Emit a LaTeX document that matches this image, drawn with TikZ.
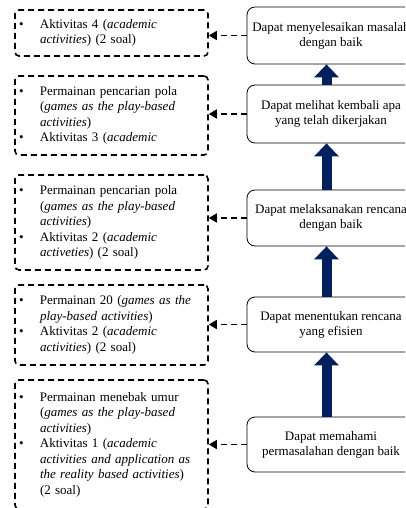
\documentclass[tikz,border=0pt]{standalone}
\usepackage{fontspec}
\setmainfont{Liberation Serif}
\usetikzlibrary{arrows.meta}
\definecolor{navy}{RGB}{0,32,96}
\begin{document}
\begin{tikzpicture}[x=1pt,y=-1pt,
  leftbox/.style={draw, dash pattern=on 6pt off 4pt, line width=1.6pt, rounded corners=4pt,
    inner xsep=4pt, inner ysep=0pt, text width=185pt, align=left,
    font=\fontsize{13}{15.5}\selectfont},
  rightbox/.style={draw, line width=0.8pt, rounded corners=8pt, minimum width=168pt,
    align=center, font=\fontsize{13}{15}\selectfont},
  dasharrow/.style={line width=1.6pt, dash pattern=on 6pt off 4pt, -{Triangle[length=8pt,width=9pt]}},
  fatarrow/.style={draw=navy, line width=10pt, -{Triangle[length=13pt,width=24pt]}}
]
\useasboundingbox (0,0) rectangle (405,508);
\fill[white] (0,0) rectangle (405,508);
\clip (0,0) rectangle (405,508);

% right boxes
\node[rightbox, minimum height=57pt] (A) at (331,35.5) {Dapat menyelesaikan masalah\\dengan baik};
\node[rightbox, minimum height=58pt] (B) at (331,114) {Dapat melihat kembali apa\\yang telah dikerjakan};
\node[rightbox, minimum height=56pt] (C) at (331,218) {Dapat melaksanakan rencana\\dengan baik};
\node[rightbox, minimum height=55pt] (D) at (331,324.5) {Dapat menentukan rencana\\yang efisien};
\node[rightbox, minimum height=55pt] (E) at (331,444.5) {Dapat memahami\\permasalahan dengan baik};

% left boxes
\node[leftbox, minimum height=46pt] (L1) at (111.5,33) {\noindent\begin{tabular}{@{}p{21pt}@{}l@{}}
\textbullet & Aktivitas 4 (\textit{academic}\\
 & \textit{activities}) (2 soal)
\end{tabular}};
\node[leftbox, minimum height=79pt] (L2) at (111.5,115.5) {\noindent\begin{tabular}{@{}p{21pt}@{}l@{}}
\textbullet & Permainan pencarian pola\\
 & (\textit{games as the play-based}\\
 & \textit{activities})\\
\textbullet & Aktivitas 3 (\textit{academic}
\end{tabular}};
\node[leftbox, minimum height=95pt] (L3) at (111.5,222.5) {\noindent\begin{tabular}{@{}p{21pt}@{}l@{}}
\textbullet & Permainan pencarian pola\\
 & (\textit{games as the play-based}\\
 & \textit{activities})\\
\textbullet & Aktivitas 2 (\textit{academic}\\
 & \textit{activeties}) (2 soal)
\end{tabular}};
\node[leftbox, minimum height=80pt] (L4) at (111.5,325) {\noindent\begin{tabular}{@{}p{21pt}@{}l@{}}
\textbullet & Permainan 20 (\textit{games as the}\\
 & \textit{play-based activities})\\
\textbullet & Aktivitas 2 (\textit{academic}\\
 & \textit{activities}) (2 soal)
\end{tabular}};
\node[leftbox, minimum height=129pt] (L5) at (111.5,444.5) {\noindent\begin{tabular}{@{}p{21pt}@{}l@{}}
\textbullet & Permainan menebak umur\\
 & (\textit{games as the play-based}\\
 & \textit{activities})\\
\textbullet & Aktivitas 1 (\textit{academic}\\
 & \textit{activities and application as}\\
 & \textit{the reality based activities})\\
 & (2 soal)
\end{tabular}};

% dashed arrows
\foreach \r/\l in {A/L1,B/L2,C/L3,D/L4,E/L5}
  \draw[dasharrow] (\r.west) -- (\r.west -| \l.east);

% fat arrows
\draw[fatarrow] ([xshift=-4.5pt]E.north) -- ([xshift=-4.5pt]D.south);
\draw[fatarrow] ([xshift=-4.5pt]D.north) -- ([xshift=-4.5pt]C.south);
\draw[fatarrow] ([xshift=-4.5pt]C.north) -- ([xshift=-4.5pt]B.south);
\draw[fatarrow] ([xshift=-4.5pt]B.north) -- ([xshift=-4.5pt]A.south);
\end{tikzpicture}
\end{document}
